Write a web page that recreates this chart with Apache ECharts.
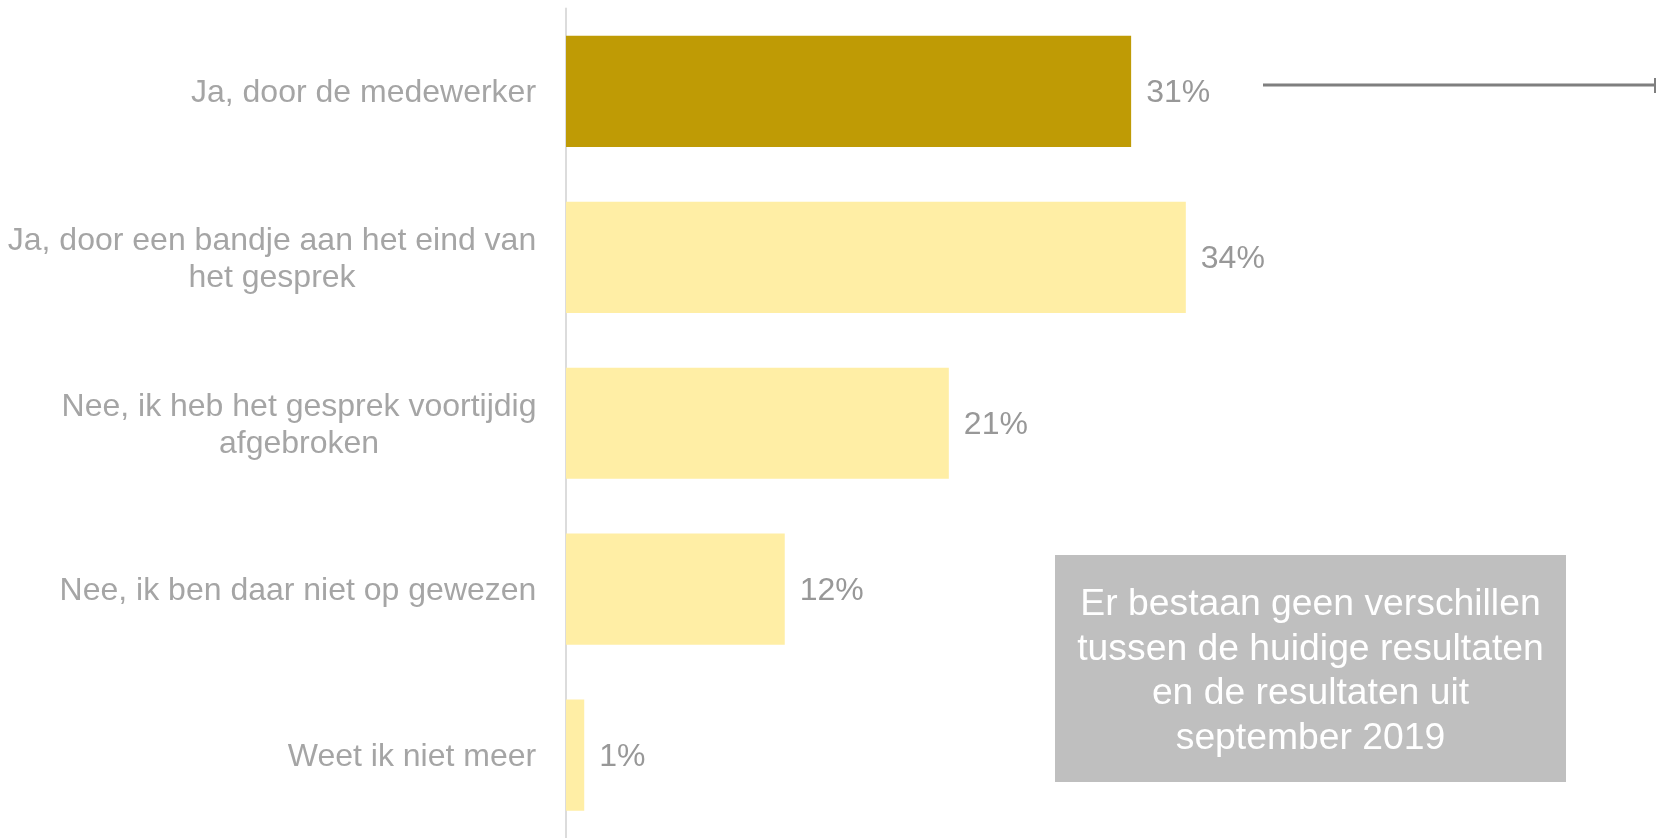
<!DOCTYPE html>
<html>
<head>
<meta charset="utf-8">
<script src="https://cdn.jsdelivr.net/npm/echarts@6/dist/echarts.min.js"></script>
<style>
html,body{margin:0;padding:0;background:#fff;}
#chart{width:1657px;height:838px;}
</style>
</head>
<body>
<div id="chart"></div>
<script>
const categories = [
  "Ja, door de medewerker",
  "Ja, door een bandje aan het eind van\nhet gesprek",
  "Nee, ik heb het gesprek voortijdig\nafgebroken",
  "Nee, ik ben daar niet op gewezen",
  "Weet ik niet meer"
];
const values = [31, 34, 21, 12, 1];
const highlightIndex = 0;
const noteText = "Er bestaan geen verschillen\ntussen de huidige resultaten\nen de resultaten uit\nseptember 2019";

const FONT = "'Liberation Sans', Arial, sans-serif";
const labelSize = 32;

// measure label line widths so multi-line labels are centered within a right-aligned block
const cv = document.createElement('canvas').getContext('2d');
cv.font = labelSize + "px 'Liberation Sans', Arial, sans-serif";
const rich = {};
categories.forEach((c, i) => {
  const w = Math.max(...c.split('\n').map(l => cv.measureText(l).width));
  rich['c' + i] = {width: Math.ceil(w) + 1, align: 'center', fontSize: labelSize, lineHeight: 37, color: '#a5a5a5', fontFamily: FONT};
});

const chart = echarts.init(document.getElementById('chart'));
chart.setOption({
  animation: false,
  grid: {left: 566, top: 8.5, width: 911.5, height: 843},
  xAxis: {type: 'value', min: 0, max: 50, show: false},
  yAxis: {
    type: 'category',
    data: categories,
    inverse: true,
    axisLine: {show: true, lineStyle: {color: '#dcdcdc', width: 2}},
    axisTick: {show: false},
    splitLine: {show: false},
    axisLabel: {
      margin: 29,
      fontSize: labelSize,
      fontFamily: FONT,
      color: '#a5a5a5',
      lineHeight: 37,
      align: 'right',
      padding: [4, 0, 0, 0],
      formatter: function (value) {
        const i = categories.indexOf(value);
        return value.split('\n').map(l => '{c' + i + '|' + l + '}').join('\n');
      },
      rich: rich
    }
  },
  series: [{
    type: 'bar',
    barCategoryGap: '33%',
    data: values.map((v, i) => ({
      value: v,
      itemStyle: {color: i === highlightIndex ? '#bf9b05' : '#ffeea5'}
    })),
    label: {
      show: true,
      position: 'right',
      distance: 15,
      offset: [0, 2],
      formatter: '{c}%',
      fontSize: labelSize,
      fontFamily: FONT,
      color: '#989898'
    },
    z: 3
  }],
  graphic: [
    {type: 'line', shape: {x1: 1263, y1: 85, x2: 1656, y2: 85}, style: {stroke: '#7f7f7f', lineWidth: 3}},
    {type: 'line', shape: {x1: 1655, y1: 78, x2: 1655, y2: 93}, style: {stroke: '#7f7f7f', lineWidth: 2}},
    {type: 'rect', shape: {x: 1055, y: 555, width: 511, height: 227}, style: {fill: '#bfbfbf'}},
    {type: 'text', x: 1310.5, y: 671.5, style: {text: noteText, fill: '#ffffff', font: "37.3px 'Liberation Sans', Arial, sans-serif", lineHeight: 44.5, textAlign: 'center', textVerticalAlign: 'middle', align: 'center', verticalAlign: 'middle'}}
  ]
});
</script>
</body>
</html>
